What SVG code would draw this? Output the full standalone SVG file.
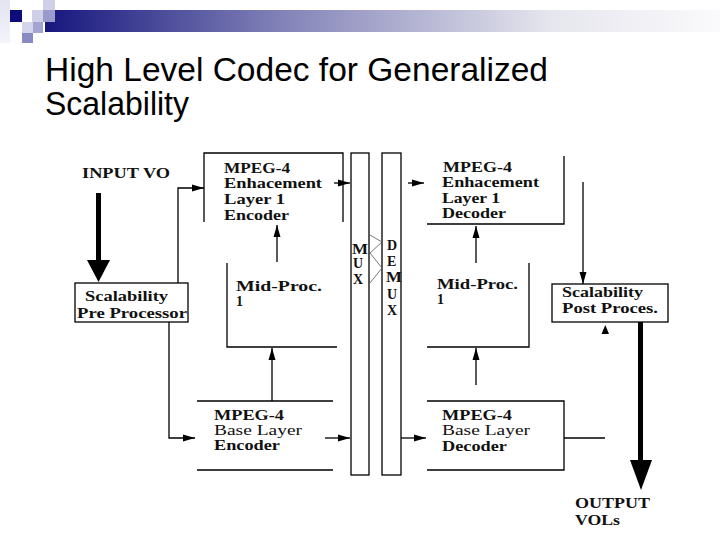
<svg xmlns="http://www.w3.org/2000/svg" width="720" height="540" viewBox="0 0 720 540">
<style>
.t{font-family:"Liberation Serif","Times New Roman",serif;font-weight:bold;font-size:14px;fill:#111}
.ttl{font-family:"Liberation Sans",Arial,sans-serif;font-size:33px;fill:#000}
.b{fill:none;stroke:#000;stroke-width:1.3}
.c{fill:none;stroke:#000;stroke-width:1.3}
</style>
<defs>
<linearGradient id="bar" x1="0" y1="0" x2="1" y2="0">
<stop offset="0" stop-color="#16167e"/>
<stop offset="0.35" stop-color="#8282b8"/>
<stop offset="0.75" stop-color="#e6e6ee"/>
<stop offset="1" stop-color="#fafafc"/>
</linearGradient>
<linearGradient id="edge" x1="0" y1="0" x2="0" y2="1">
<stop offset="0" stop-color="#e4e4f2"/>
<stop offset="1" stop-color="#f4f4fa"/>
</linearGradient>
<marker id="ah" markerUnits="userSpaceOnUse" markerWidth="12" markerHeight="8" refX="12" refY="4" orient="auto">
<path d="M0,0.5 L12,4 L0,7.5 z" fill="#000"/>
</marker>
</defs>
<rect width="720" height="540" fill="#fff"/>
<g id="header">
<rect x="45" y="10" width="675" height="22" fill="url(#bar)"/>
<rect x="0" y="0" width="10" height="43" fill="url(#edge)"/>
<rect x="10" y="10" width="12" height="12" fill="#0c0c7a"/>
<rect x="32" y="10" width="11" height="12" fill="#cfcfe8"/>
<rect x="43" y="0" width="12" height="10" fill="#cfcfe8"/>
<rect x="43" y="10" width="12" height="12" fill="#9a9acc"/>
<rect x="22" y="22" width="11" height="11" fill="#d4d4ec"/>
<rect x="33" y="22" width="10" height="11" fill="#a4a4d2"/>
<rect x="22" y="33" width="11" height="10" fill="#8a8ac2"/>
</g>
<g id="title">
<text class="ttl" x="45" y="81" textLength="503" lengthAdjust="spacingAndGlyphs">High Level Codec for Generalized</text>
<text class="ttl" x="45" y="115" textLength="144" lengthAdjust="spacingAndGlyphs">Scalability</text>
</g>
<g id="input">
<text class="t" x="82" y="178" textLength="88" lengthAdjust="spacingAndGlyphs">INPUT VO</text>
</g>
<g id="preproc">
<rect class="b" x="75" y="283" width="113" height="39"/>
<text class="t" x="85" y="301" textLength="83" lengthAdjust="spacingAndGlyphs">Scalability</text>
<text class="t" x="77" y="318" textLength="110" lengthAdjust="spacingAndGlyphs">Pre Processor</text>
</g>
<g id="enh-encoder">
<path class="b" d="M204,222 V153 H343 V222"/>
<text class="t" x="224" y="173" textLength="66" lengthAdjust="spacingAndGlyphs">MPEG-4</text>
<text class="t" x="224" y="188" textLength="98" lengthAdjust="spacingAndGlyphs">Enhacement</text>
<text class="t" x="224" y="204" textLength="61" lengthAdjust="spacingAndGlyphs">Layer 1</text>
<text class="t" x="224" y="220" textLength="65" lengthAdjust="spacingAndGlyphs">Encoder</text>
</g>
<g id="midproc-enc">
<path class="b" d="M227,263 V347 H337"/>
<text class="t" x="236" y="291" textLength="86" lengthAdjust="spacingAndGlyphs">Mid-Proc.</text>
<text class="t" x="236" y="306">1</text>
</g>
<g id="base-encoder">
<path class="b" d="M197,401 H333 M197,470 H333"/>
<text class="t" x="214" y="420" textLength="70" lengthAdjust="spacingAndGlyphs">MPEG-4</text>
<text class="t" x="214" y="435" textLength="88" lengthAdjust="spacingAndGlyphs" style="font-weight:normal">Base Layer</text>
<text class="t" x="214" y="450" textLength="66" lengthAdjust="spacingAndGlyphs">Encoder</text>
</g>
<g id="mux">
<rect class="b" x="351" y="153" width="18" height="322"/>
<text class="t" x="352" y="254" textLength="16" lengthAdjust="spacingAndGlyphs">M</text>
<text class="t" x="353" y="268">U</text>
<text class="t" x="353" y="284">X</text>
</g>
<g id="demux">
<rect class="b" x="382" y="153" width="19" height="322"/>
<text class="t" x="387" y="250">D</text>
<text class="t" x="387" y="266">E</text>
<text class="t" x="386" y="282" textLength="16" lengthAdjust="spacingAndGlyphs">M</text>
<text class="t" x="387" y="299">U</text>
<text class="t" x="387" y="315">X</text>
</g>
<g id="enh-decoder">
<path class="b" d="M564,156 V224 H427"/>
<text class="t" x="443" y="172" textLength="69" lengthAdjust="spacingAndGlyphs">MPEG-4</text>
<text class="t" x="442" y="187" textLength="97" lengthAdjust="spacingAndGlyphs">Enhacement</text>
<text class="t" x="442" y="203" textLength="58" lengthAdjust="spacingAndGlyphs">Layer 1</text>
<text class="t" x="442" y="218" textLength="64" lengthAdjust="spacingAndGlyphs">Decoder</text>
</g>
<g id="midproc-dec">
<path class="b" d="M529,263 V347 H427"/>
<text class="t" x="437" y="289" textLength="81" lengthAdjust="spacingAndGlyphs">Mid-Proc.</text>
<text class="t" x="437" y="304">1</text>
</g>
<g id="base-decoder">
<path class="b" d="M427,401 H564 V470 H427"/>
<text class="t" x="442" y="420" textLength="70" lengthAdjust="spacingAndGlyphs">MPEG-4</text>
<text class="t" x="442" y="435" textLength="88" lengthAdjust="spacingAndGlyphs" style="font-weight:normal">Base Layer</text>
<text class="t" x="442" y="451" textLength="65" lengthAdjust="spacingAndGlyphs">Decoder</text>
</g>
<g id="postproc">
<rect class="b" x="552" y="284" width="116" height="38"/>
<text class="t" x="562" y="297" textLength="81" lengthAdjust="spacingAndGlyphs">Scalability</text>
<text class="t" x="562" y="313" textLength="96" lengthAdjust="spacingAndGlyphs">Post Proces.</text>
</g>
<g id="output">
<text class="t" x="575" y="508" textLength="75" lengthAdjust="spacingAndGlyphs">OUTPUT</text>
<text class="t" x="575" y="525" textLength="45" lengthAdjust="spacingAndGlyphs">VOLs</text>
</g>
<g id="connectors">
<rect x="96" y="193" width="5" height="68" fill="#000"/>
<polygon points="87,260 110,260 98.5,282" fill="#000"/>
<polyline class="c" points="178,283 178,188 204,188" marker-end="url(#ah)"/>
<polyline class="c" points="169,322 169,438 195,438" marker-end="url(#ah)"/>
<line class="c" x1="334" y1="183" x2="350" y2="183" marker-end="url(#ah)"/>
<line class="c" x1="277" y1="262" x2="277" y2="225" marker-end="url(#ah)"/>
<line class="c" x1="272" y1="401" x2="272" y2="348" marker-end="url(#ah)"/>
<line class="c" x1="325" y1="438" x2="350" y2="438" marker-end="url(#ah)"/>
<line class="c" x1="408" y1="183" x2="424" y2="183" marker-end="url(#ah)"/>
<line class="c" x1="401" y1="438" x2="426" y2="438" marker-end="url(#ah)"/>
<line class="c" x1="476" y1="263" x2="476" y2="226" marker-end="url(#ah)"/>
<line class="c" x1="476" y1="385" x2="476" y2="348" marker-end="url(#ah)"/>
<line class="c" x1="564" y1="438" x2="605" y2="438"/>
<line class="c" x1="583" y1="182" x2="583" y2="284" marker-end="url(#ah)"/>
<polygon points="601.5,334 609,334 605.3,325" fill="#000"/>
<rect x="638" y="322" width="5" height="139" fill="#000"/>
<polygon points="630,460 652,460 641,490" fill="#000"/>
<polyline points="370,235 382,242 370,253 382,268 370,283" fill="none" stroke="#555" stroke-width="0.8"/>
</g>
</svg>
